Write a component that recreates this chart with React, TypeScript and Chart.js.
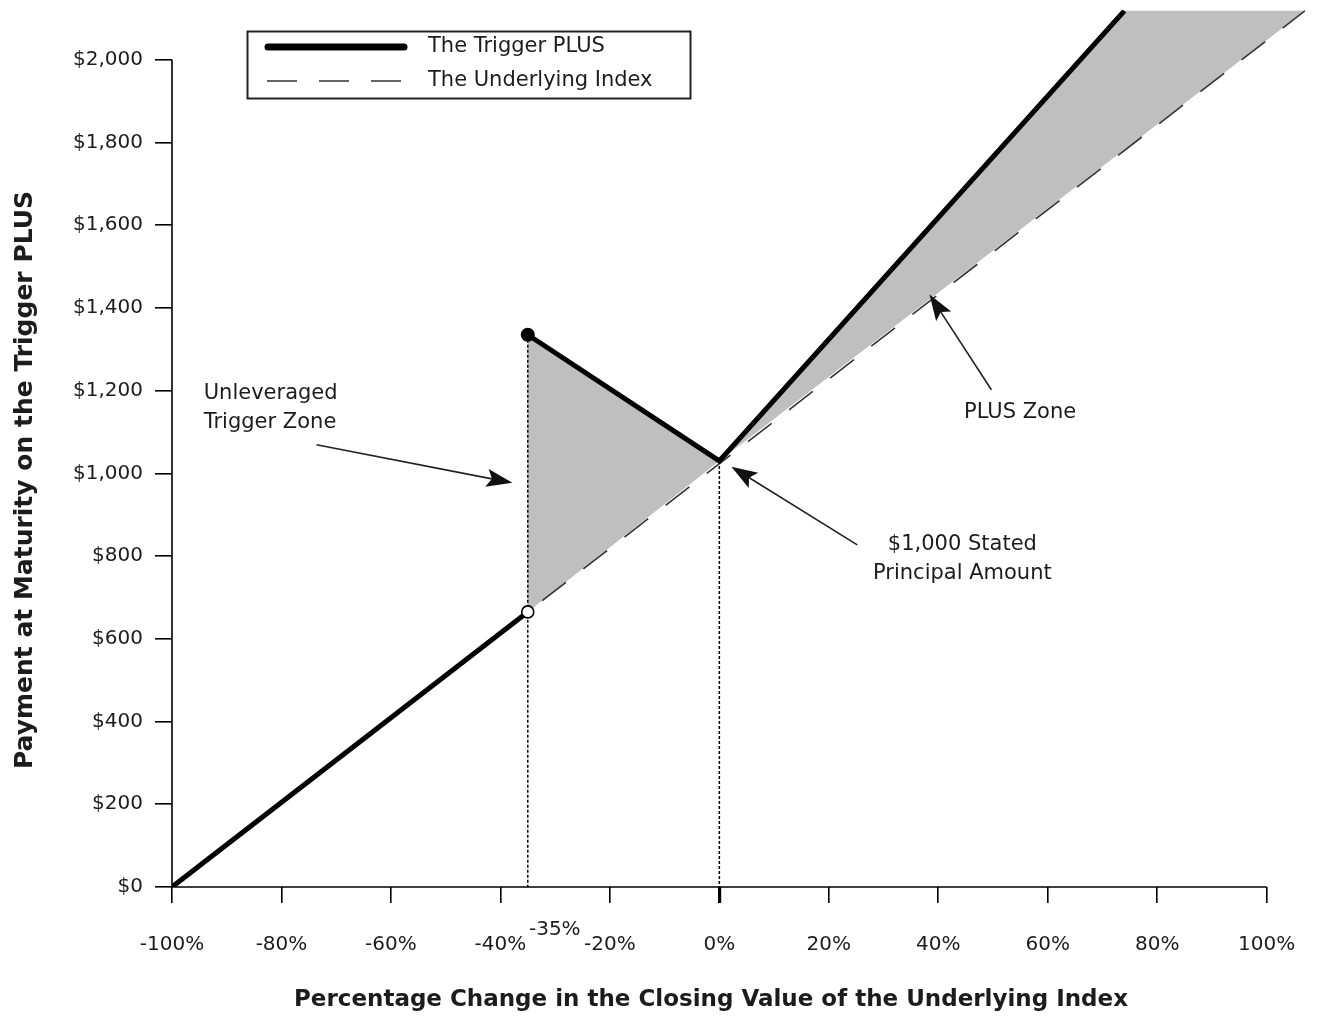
import React, { useEffect, useRef } from "react";
import { Chart, registerables } from "chart.js";

Chart.register(...registerables);

// ---------- data ----------
const xTicks = [-100, -80, -60, -40, -20, 0, 20, 40, 60, 80, 100];
const yTicks = [0, 200, 400, 600, 800, 1000, 1200, 1400, 1600, 1800, 2000];
const triggerLevel = -35;

const triggerLow = [
  { x: -100, y: 0 },
  { x: -35, y: 665 },
];
const triggerHigh = [
  { x: -35, y: 1335 },
  { x: 0, y: 1030 },
  { x: 74, y: 2118 },
];
const underlying = [
  { x: -100, y: 0 },
  { x: 107, y: 2118 },
];
const openPoint = [{ x: -35, y: 665 }];
const barrierDrop = [
  { x: -35, y: 1335 },
  { x: -35, y: 0 },
];
const principalDrop = [
  { x: 0, y: 1030 },
  { x: 0, y: 0 },
];
const triggerZone = [
  { x: -35, y: 1335 },
  { x: 0, y: 1030 },
  { x: -35, y: 665 },
];
const plusZone = [
  { x: 0, y: 1030 },
  { x: 74, y: 2118 },
  { x: 107, y: 2118 },
];

const notes = [
  { lines: ["Unleveraged", "Trigger Zone"], x: -94.2, y: 1192, align: "left" },
  { lines: ["PLUS Zone"], x: 44.7, y: 1146, align: "left" },
  { lines: ["$1,000 Stated", "Principal Amount"], x: 44.4, y: 827, align: "center" },
];
const arrows = [
  { from: { x: -73.6, y: 1069 }, to: { x: -37.8, y: 977 } },
  { from: { x: 49.7, y: 1202 }, to: { x: 38.4, y: 1432 } },
  { from: { x: 25.2, y: 827 }, to: { x: 2.2, y: 1016 } },
];

const xTitle = "Percentage Change in the Closing Value of the Underlying Index";
const yTitle = "Payment at Maturity on the Trigger PLUS";
const legendItems = ["The Trigger PLUS", "The Underlying Index"];

const FONT = "'DejaVu Sans', 'Liberation Sans', Arial, sans-serif";
const TEXT = "#1c1c1c";
const GRAY = "#bfbfbf";

function drawArrow(ctx: CanvasRenderingContext2D, x1: number, y1: number, x2: number, y2: number) {
  const ang = Math.atan2(y2 - y1, x2 - x1);
  const L = 26;
  const W = 9;
  const c = Math.cos(ang);
  const s = Math.sin(ang);
  ctx.save();
  ctx.strokeStyle = "#222";
  ctx.fillStyle = "#111";
  ctx.lineWidth = 1.6;
  ctx.beginPath();
  ctx.moveTo(x1, y1);
  ctx.lineTo(x2 - c * L * 0.7, y2 - s * L * 0.7);
  ctx.stroke();
  ctx.beginPath();
  ctx.moveTo(x2, y2);
  ctx.lineTo(x2 - L * c + W * s, y2 - L * s - W * c);
  ctx.lineTo(x2 - L * c * 0.8, y2 - L * s * 0.8);
  ctx.lineTo(x2 - L * c - W * s, y2 - L * s + W * c);
  ctx.closePath();
  ctx.fill();
  ctx.restore();
}

const decorPlugin = {
  id: "decor",
  beforeDatasetsDraw(chart: any) {
    const ctx: CanvasRenderingContext2D = chart.ctx;
    const xs = chart.scales.x;
    const ys = chart.scales.y;
    const px = (v: number) => xs.getPixelForValue(v);
    const py = (v: number) => ys.getPixelForValue(v);
    ctx.save();
    ctx.fillStyle = GRAY;
    [triggerZone, plusZone].forEach((poly) => {
      ctx.beginPath();
      poly.forEach((p, i) => (i === 0 ? ctx.moveTo(px(p.x), py(p.y)) : ctx.lineTo(px(p.x), py(p.y))));
      ctx.closePath();
      ctx.fill();
    });
    // axis lines
    ctx.strokeStyle = "#000";
    ctx.lineWidth = 1.6;
    ctx.beginPath();
    ctx.moveTo(px(xTicks[0]), py(0));
    ctx.lineTo(px(xTicks[xTicks.length - 1]), py(0));
    ctx.moveTo(px(xTicks[0]), py(0));
    ctx.lineTo(px(xTicks[0]), py(yTicks[yTicks.length - 1]));
    ctx.stroke();
    ctx.restore();
  },
  afterDatasetsDraw(chart: any) {
    const ctx: CanvasRenderingContext2D = chart.ctx;
    const xs = chart.scales.x;
    const ys = chart.scales.y;
    const px = (v: number) => xs.getPixelForValue(v);
    const py = (v: number) => ys.getPixelForValue(v);
    ctx.save();
    arrows.forEach((a) => drawArrow(ctx, px(a.from.x), py(a.from.y), px(a.to.x), py(a.to.y)));

    ctx.fillStyle = TEXT;
    ctx.font = `21px ${FONT}`;
    ctx.textBaseline = "middle";
    notes.forEach((n) => {
      ctx.textAlign = n.align as CanvasTextAlign;
      n.lines.forEach((line, i) => ctx.fillText(line, px(n.x), py(n.y) + i * 29));
    });

    // -35% label
    ctx.font = `20px ${FONT}`;
    ctx.textAlign = "center";
    ctx.fillText(`${triggerLevel}%`, px(triggerLevel) + 27, 930);

    // legend
    const lx = 247;
    const ly = 31;
    ctx.fillStyle = "#fff";
    ctx.fillRect(lx, ly, 443, 67);
    ctx.strokeStyle = "#222";
    ctx.lineWidth = 2;
    ctx.strokeRect(lx + 0.5, ly + 0.5, 443, 67);
    ctx.strokeStyle = "#000";
    ctx.lineCap = "round";
    ctx.lineWidth = 7;
    ctx.beginPath();
    ctx.moveTo(lx + 21, ly + 16);
    ctx.lineTo(lx + 157, ly + 16);
    ctx.stroke();
    ctx.lineCap = "butt";
    ctx.lineWidth = 1.6;
    ctx.strokeStyle = "#333";
    ctx.setLineDash([30, 22]);
    ctx.beginPath();
    ctx.moveTo(lx + 20, ly + 50);
    ctx.lineTo(lx + 157, ly + 50);
    ctx.stroke();
    ctx.setLineDash([]);
    ctx.fillStyle = TEXT;
    ctx.font = `21px ${FONT}`;
    ctx.textAlign = "left";
    ctx.fillText(legendItems[0], lx + 181, ly + 16);
    ctx.fillText(legendItems[1], lx + 181, ly + 50);

    // axis titles
    ctx.textAlign = "center";
    ctx.font = `bold 23px ${FONT}`;
    ctx.fillText(xTitle, 711, 1000);
    ctx.font = `bold 25px ${FONT}`;
    ctx.translate(25, 480);
    ctx.rotate(-Math.PI / 2);
    ctx.fillText(yTitle, 0, 0);
    ctx.restore();
  },
};

export default function App() {
  const ref = useRef<HTMLCanvasElement | null>(null);
  useEffect(() => {
    document.body.style.margin = "0";
    const canvas = ref.current;
    if (!canvas) return;
    const chart = new Chart(canvas, {
      type: "scatter",
      data: {
        datasets: [
          {
            label: "open",
            data: openPoint,
            showLine: false,
            pointRadius: 6,
            pointBackgroundColor: "#fff",
            pointBorderColor: "#000",
            pointBorderWidth: 1.6,
          },
          {
            label: legendItems[0],
            data: triggerHigh,
            showLine: true,
            borderColor: "#000",
            borderWidth: 5,
            pointRadius: [7, 0, 0],
            pointBackgroundColor: "#000",
            pointBorderWidth: 0,
          },
          {
            label: legendItems[0] + " low",
            data: triggerLow,
            showLine: true,
            borderColor: "#000",
            borderWidth: 5,
            pointRadius: 0,
          },
          {
            label: legendItems[1],
            data: underlying,
            showLine: true,
            borderColor: "#333",
            borderWidth: 1.6,
            borderDash: [30, 22],
            pointRadius: 0,
          },
          {
            label: "barrier",
            data: barrierDrop,
            showLine: true,
            borderColor: "#000",
            borderWidth: 1.5,
            borderDash: [3, 2],
            pointRadius: 0,
          },
          {
            label: "principal",
            data: principalDrop,
            showLine: true,
            borderColor: "#000",
            borderWidth: 1.5,
            borderDash: [3, 2],
            pointRadius: 0,
          },
        ],
      },
      options: {
        responsive: false,
        animation: false,
        events: [],
        layout: { padding: { top: 10, right: 12, left: 0, bottom: 0 } },
        plugins: { legend: { display: false }, tooltip: { enabled: false } },
        scales: {
          x: {
            type: "linear",
            min: -100,
            max: 107,
            afterFit: (s: any) => {
              s.height = 130;
              s.paddingLeft = 0;
              s.paddingRight = 0;
            },
            afterBuildTicks: (s: any) => {
              s.ticks = xTicks.map((v) => ({ value: v }));
            },
            border: { display: false },
            grid: {
              drawOnChartArea: false,
              drawTicks: true,
              tickLength: 16,
              color: "#000",
              lineWidth: (c: any) => (c.tick && c.tick.value === 0 ? 3.2 : 1.6),
            },
            ticks: {
              padding: 30,
              color: TEXT,
              font: { family: FONT, size: 20 },
              maxRotation: 0,
              autoSkip: false,
              callback: (v: any) => `${v}%`,
            },
          },
          y: {
            type: "linear",
            min: 0,
            max: 2120,
            afterFit: (s: any) => {
              s.width = 172;
              s.paddingTop = 0;
              s.paddingBottom = 0;
            },
            afterBuildTicks: (s: any) => {
              s.ticks = yTicks.map((v) => ({ value: v }));
            },
            border: { display: false },
            grid: {
              drawOnChartArea: false,
              drawTicks: true,
              tickLength: 17,
              color: "#000",
              lineWidth: 1.6,
            },
            ticks: {
              padding: 12,
              color: TEXT,
              font: { family: FONT, size: 20 },
              autoSkip: false,
              callback: (v: any) => `$${Number(v).toLocaleString("en-US")}`,
            },
          },
        },
      },
      plugins: [decorPlugin],
    });
    return () => chart.destroy();
  }, []);
  return (
    <div style={{ width: 1317, height: 1017, background: "#fff" }}>
      <canvas ref={ref} width={1317} height={1017} style={{ display: "block", width: 1317, height: 1017 }} />
    </div>
  );
}
